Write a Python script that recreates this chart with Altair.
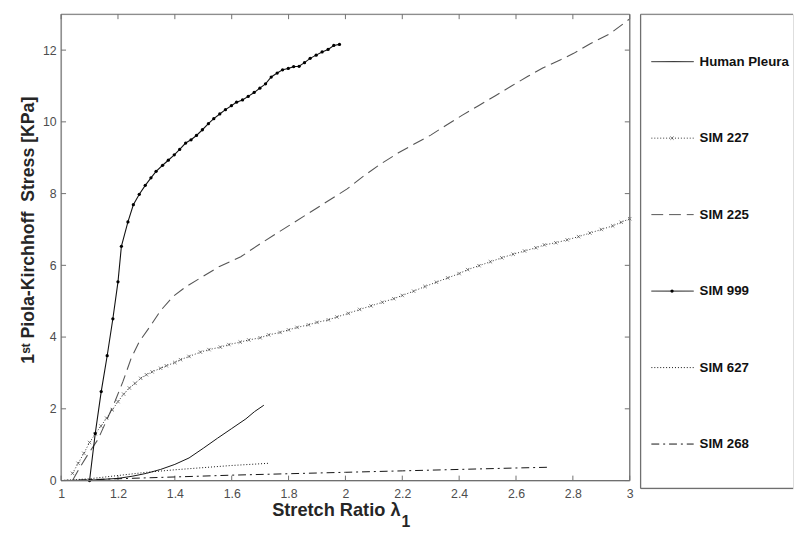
import altair as alt
import pandas as pd

# ---------------- data ----------------
hp_x = [1.0, 1.1, 1.2, 1.25, 1.3, 1.35, 1.4, 1.45, 1.5, 1.55, 1.6, 1.65, 1.68, 1.713]
hp_y = [0.0, 0.01, 0.06, 0.12, 0.2, 0.31, 0.45, 0.63, 0.9, 1.18, 1.45, 1.72, 1.92, 2.1]

s227_x = [1.04, 1.06, 1.08, 1.10, 1.12, 1.14, 1.16, 1.18, 1.20, 1.22, 1.24, 1.26, 1.28, 1.30,
          1.32, 1.35, 1.37, 1.40, 1.42, 1.45, 1.49, 1.52, 1.56, 1.59, 1.63, 1.66, 1.70, 1.73,
          1.77, 1.80, 1.83, 1.87, 1.90, 1.94, 1.97, 2.01, 2.05, 2.09, 2.13, 2.17, 2.20, 2.24,
          2.28, 2.32, 2.36, 2.40, 2.43, 2.47, 2.51, 2.55, 2.59, 2.63, 2.67, 2.70, 2.74, 2.78,
          2.82, 2.86, 2.90, 2.94, 2.97, 3.00]
s227_y = [0.2, 0.48, 0.76, 1.06, 1.30, 1.52, 1.74, 1.97, 2.20, 2.41, 2.58, 2.71, 2.85, 2.95,
          3.03, 3.13, 3.20, 3.29, 3.37, 3.46, 3.58, 3.65, 3.72, 3.79, 3.86, 3.92, 3.98, 4.06,
          4.13, 4.20, 4.27, 4.34, 4.41, 4.48, 4.56, 4.66, 4.77, 4.87, 4.97, 5.07, 5.16, 5.28,
          5.41, 5.53, 5.65, 5.77, 5.88, 5.99, 6.10, 6.21, 6.31, 6.40, 6.49, 6.57, 6.63, 6.71,
          6.80, 6.90, 7.00, 7.10, 7.20, 7.30]

s225_x = [1.04, 1.067, 1.096, 1.13, 1.16, 1.19, 1.217, 1.246, 1.274, 1.315, 1.349, 1.395,
          1.442, 1.499, 1.557, 1.632, 1.7, 1.8, 1.9, 2.006, 2.064, 2.121, 2.185, 2.237, 2.30,
          2.353, 2.41, 2.468, 2.526, 2.584, 2.642, 2.694, 2.757, 2.803, 2.861, 2.931, 3.0]
s225_y = [0.0, 0.38, 0.75, 1.15, 1.68, 2.22, 2.75, 3.4, 3.86, 4.32, 4.73, 5.14,
          5.42, 5.69, 5.97, 6.24, 6.6, 7.1, 7.6, 8.13, 8.49, 8.81, 9.13, 9.36, 9.63,
          9.90, 10.18, 10.45, 10.72, 11.0, 11.27, 11.5, 11.73, 11.91, 12.18, 12.46, 12.87]

s999_x = [1.10, 1.12, 1.141, 1.162, 1.182, 1.200, 1.212, 1.235, 1.254, 1.275, 1.296, 1.316,
          1.334, 1.357, 1.377, 1.398, 1.417, 1.438, 1.457, 1.476, 1.497, 1.518, 1.537, 1.558,
          1.578, 1.599, 1.617, 1.638, 1.658, 1.679, 1.699, 1.719, 1.739, 1.760, 1.779, 1.799,
          1.818, 1.837, 1.856, 1.876, 1.897, 1.918, 1.939, 1.959, 1.979]
s999_y = [0.0, 1.31, 2.48, 3.48, 4.51, 5.54, 6.53, 7.21, 7.69, 7.98, 8.23, 8.44,
          8.62, 8.79, 8.93, 9.08, 9.23, 9.41, 9.50, 9.62, 9.78, 9.95, 10.09, 10.22,
          10.34, 10.45, 10.55, 10.61, 10.71, 10.82, 10.94, 11.06, 11.25, 11.36, 11.45, 11.49,
          11.54, 11.55, 11.65, 11.77, 11.86, 11.95, 12.02, 12.13, 12.16]

s627_x = [1.0, 1.1, 1.2, 1.3, 1.4, 1.5, 1.6, 1.728]
s627_y = [0.0, 0.05, 0.14, 0.23, 0.3, 0.36, 0.42, 0.48]

s268_x = [1.0, 1.2, 1.4, 1.6, 1.8, 2.0, 2.2, 2.4, 2.6, 2.71]
s268_y = [0.0, 0.05, 0.1, 0.15, 0.19, 0.23, 0.27, 0.31, 0.35, 0.37]

legend_names = ["Human Pleura", "SIM 227", "SIM 225", "SIM 999", "SIM 627", "SIM 268"]
x_ticks = [1.0, 1.2, 1.4, 1.6, 1.8, 2.0, 2.2, 2.4, 2.6, 2.8, 3.0]
y_ticks = [0, 2, 4, 6, 8, 10, 12]
x_title_main = "Stretch Ratio λ"
x_title_sub = "1"
y_title = "1ˢᵗ Piola-Kirchhoff\u00a0 Stress [KPa]"

# ---------------- styling ----------------
W, H = 578, 474
LW, LH = 155, 482
FONT = "Liberation Sans"
AX = "#6f6f6f"
XMARK = "M-1,-1L1,1M-1,1L1,-1"

DASH_SOLID = [1, 0]
DASH_DOT = [1, 2]
DASH_DASH = [12, 6]
DASH_DASHDOT = [8, 4, 2, 4]

xs = alt.Scale(domain=[1, 3], nice=False, zero=False)
ys = alt.Scale(domain=[0, 13], nice=False, zero=True)

xaxis = alt.Axis(values=x_ticks, format="~g", title=None, ticks=False,
                 domain=False, grid=False, labelFont=FONT, labelFontSize=12.5,
                 labelColor="#4d4d4d", labelPadding=7, labelFlush=False)
yaxis = alt.Axis(values=y_ticks, title=y_title, ticks=False,
                 domain=False, grid=False, labelFont=FONT, labelFontSize=12.5,
                 labelColor="#4d4d4d", labelPadding=5, labelFlush=False,
                 titleFont=FONT, titleFontSize=18, titleFontWeight="bold",
                 titleColor="#262626", titleX=-24, titleY=219, titleAlign="center",
                 titleBaseline="bottom", titleAngle=270)

X = alt.X("x:Q", scale=xs, axis=xaxis)
Y = alt.Y("y:Q", scale=ys, axis=yaxis)


def sdf(xv, yv):
    return pd.DataFrame({"x": xv, "y": yv})


one = pd.DataFrame({"k": [0]})
xt = pd.DataFrame({"x": x_ticks})
yt = pd.DataFrame({"y": y_ticks})
xtitle = pd.DataFrame({"main": [x_title_main], "sub": [x_title_sub]})

layers = [
    # inside ticks (MATLAB style)
    alt.Chart(xt).mark_rule(color=AX).encode(x=X, y=alt.value(H), y2=alt.value(H - 5)),
    alt.Chart(xt).mark_rule(color=AX).encode(x=X, y=alt.value(0), y2=alt.value(5)),
    alt.Chart(yt).mark_rule(color=AX).encode(y=Y, x=alt.value(0), x2=alt.value(5)),
    alt.Chart(yt).mark_rule(color=AX).encode(y=Y, x=alt.value(W), x2=alt.value(W - 5)),
    # curves
    alt.Chart(sdf(s268_x, s268_y)).mark_line(color="#111111", strokeWidth=1, strokeDash=DASH_DASHDOT).encode(x=X, y=Y),
    alt.Chart(sdf(s627_x, s627_y)).mark_line(color="#111111", strokeWidth=1, strokeDash=DASH_DOT).encode(x=X, y=Y),
    alt.Chart(sdf(hp_x, hp_y)).mark_line(color="#111111", strokeWidth=1).encode(x=X, y=Y),
    alt.Chart(sdf(s225_x, s225_y)).mark_line(color="#555555", strokeWidth=1.1, strokeDash=DASH_DASH).encode(x=X, y=Y),
    alt.Chart(sdf(s227_x, s227_y)).mark_line(color="#333333", strokeWidth=1, strokeDash=DASH_DOT).encode(x=X, y=Y),
    alt.Chart(sdf(s227_x, s227_y)).mark_point(shape=XMARK, size=12, filled=False, color="#3a3a3a", strokeWidth=0.9).encode(x=X, y=Y),
    alt.Chart(sdf(s999_x, s999_y)).mark_line(color="#111111", strokeWidth=1.1).encode(x=X, y=Y),
    alt.Chart(sdf(s999_x, s999_y)).mark_point(shape="circle", size=11, filled=True, color="#000000", opacity=1).encode(x=X, y=Y),
    # frame
    alt.Chart(one).mark_rule(color=AX, strokeWidth=1.2).encode(x=alt.value(0), x2=alt.value(W), y=alt.value(0)),
    alt.Chart(one).mark_rule(color=AX, strokeWidth=1.2).encode(x=alt.value(0), x2=alt.value(W), y=alt.value(H)),
    alt.Chart(one).mark_rule(color=AX, strokeWidth=1.2).encode(x=alt.value(0), y=alt.value(0), y2=alt.value(H)),
    alt.Chart(one).mark_rule(color=AX, strokeWidth=1.2).encode(x=alt.value(W), y=alt.value(0), y2=alt.value(H)),
    # x-axis title with a real subscript
    alt.Chart(xtitle).mark_text(align="right", baseline="alphabetic", font=FONT, fontSize=18.5,
                                fontWeight="bold", color="#262626").encode(
        x=alt.value(W / 2 + 56), y=alt.value(H + 36), text="main:N"),
    alt.Chart(xtitle).mark_text(align="left", baseline="alphabetic", font=FONT, fontSize=16,
                                fontWeight="bold", color="#262626").encode(
        x=alt.value(W / 2 + 57), y=alt.value(H + 47), text="sub:N"),
]
main = alt.layer(*layers).properties(width=W, height=H)

# ---------------- legend panel ----------------
leg = pd.DataFrame({"name": legend_names, "i": list(range(len(legend_names)))})
LY = alt.Y("i:Q", scale=alt.Scale(domain=[-0.62, 5.58], reverse=True, nice=False, zero=False), axis=None)
dash_scale = alt.Scale(domain=legend_names,
                       range=[DASH_SOLID, DASH_DOT, DASH_DASH, DASH_SOLID, DASH_DOT, DASH_DASHDOT])
col_scale = alt.Scale(domain=legend_names,
                      range=["#111111", "#333333", "#555555", "#111111", "#111111", "#111111"])

leg_layers = [
    alt.Chart(leg).mark_rule(strokeWidth=1).encode(
        y=LY, x=alt.value(11), x2=alt.value(54),
        strokeDash=alt.StrokeDash("name:N", scale=dash_scale, legend=None),
        color=alt.Color("name:N", scale=col_scale, legend=None)),
    alt.Chart(leg).transform_filter(alt.datum.name == "SIM 227").mark_point(
        shape=XMARK, size=12, filled=False, color="#3a3a3a", strokeWidth=0.9).encode(y=LY, x=alt.value(32)),
    alt.Chart(leg).transform_filter(alt.datum.name == "SIM 999").mark_point(
        shape="circle", size=11, filled=True, color="#000000", opacity=1).encode(y=LY, x=alt.value(32)),
    alt.Chart(leg).mark_text(align="left", baseline="middle", font=FONT, fontSize=13.5,
                             fontWeight="bold", color="#111111").encode(
        y=LY, x=alt.value(60), text="name:N"),
    alt.Chart(one).mark_rule(color=AX, strokeWidth=1.2).encode(x=alt.value(0), x2=alt.value(LW), y=alt.value(0)),
    alt.Chart(one).mark_rule(color=AX, strokeWidth=1.2).encode(x=alt.value(0), x2=alt.value(LW), y=alt.value(LH)),
    alt.Chart(one).mark_rule(color=AX, strokeWidth=1.2).encode(x=alt.value(0), y=alt.value(0), y2=alt.value(LH)),
]
legend_panel = alt.layer(*leg_layers).properties(width=LW, height=LH)

chart = alt.hconcat(main, legend_panel, spacing=11, bounds="flush").properties(
    padding={"left": 11, "top": 0, "right": 0, "bottom": 0}
).configure_view(stroke=None).configure(background="white")

chart.save("out.html", embed_options={"renderer": "svg", "actions": False})
